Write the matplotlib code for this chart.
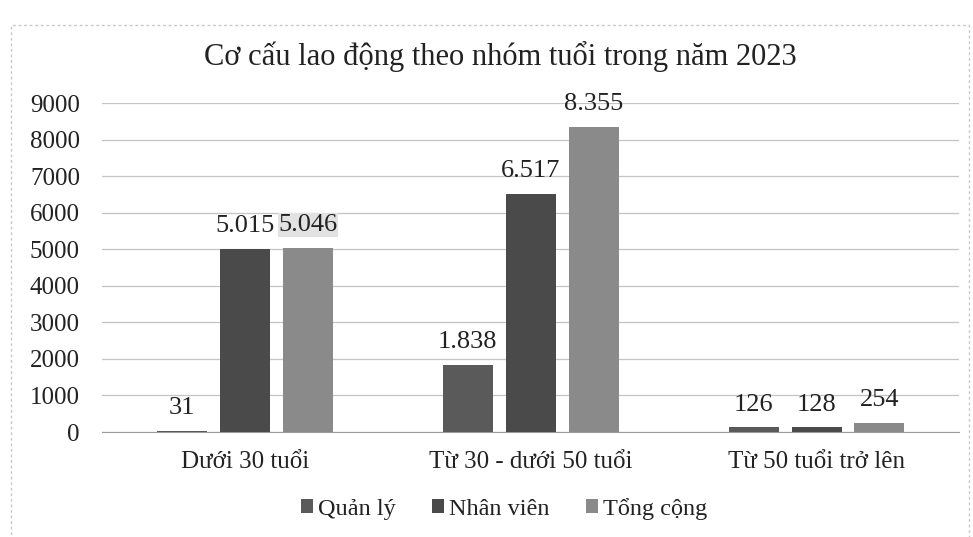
import numpy as np
import matplotlib.pyplot as plt
from matplotlib.patches import Rectangle

groups = ['Dưới 30 tuổi', 'Từ 30 - dưới 50 tuổi', 'Từ 50 tuổi trở lên']
series = ['Quản lý', 'Nhân viên', 'Tổng cộng']
quan_ly = [31, 1838, 126]
nhan_vien = [5015, 6517, 128]
tong_cong = [5046, 8355, 254]
yticks = [0, 1000, 2000, 3000, 4000, 5000, 6000, 7000, 8000, 9000]

colors = ['#5a5a5a', '#4a4a4a', '#8a8a8a']

plt.rcParams['font.family'] = ['Liberation Serif', 'DejaVu Serif']

fig = plt.figure(figsize=(9.73, 5.37), dpi=100)
ax = fig.add_axes([0.105, 0.1955, 0.881, 0.6125])

# khung ngoài
fig.patches.append(Rectangle((0.011, -0.01), 0.985, 0.963, transform=fig.transFigure,
                             fill=False, ec='#c8c8c8', lw=1, ls=(0, (2, 2))))

x = np.arange(len(groups))
w = 0.175
step = 0.22
for i, (vals, c) in enumerate(zip([quan_ly, nhan_vien, tong_cong], colors)):
    pos = x + (i - 1) * step
    ax.bar(pos, vals, width=w, color=c, label=series[i], zorder=3)
    for p, v in zip(pos, vals):
        lab = f'{v:,}'.replace(',', '.')
        t = ax.text(p, v + 320, lab, ha='center', va='bottom', fontsize=19, color='#222222')
        if v == 5046:
            # nhãn có nền xám nhạt như ảnh gốc
            t.set_bbox(dict(facecolor='#e2e2e2', edgecolor='none', pad=0.5))

ax.set_ylim(0, 9000)
ax.set_xlim(-0.5, 2.5)
ax.set_yticks(yticks)
ax.set_xticks(x)
ax.set_xticklabels(groups)
ax.tick_params(axis='both', length=0, labelsize=18, colors='#222222')
ax.tick_params(axis='x', pad=14)
ax.tick_params(axis='y', pad=16)
ax.grid(axis='y', color='#c4c4c4', lw=0.9, zorder=0)
for s in ['top', 'right', 'left']:
    ax.spines[s].set_visible(False)
ax.spines['bottom'].set_color('#9a9a9a')

fig.text(0.514, 0.895, 'Cơ cấu lao động theo nhóm tuổi trong năm 2023', ha='center',
         va='center', fontsize=22, color='#222222')
fig.legend(loc='center', bbox_to_anchor=(0.518, 0.053), ncol=3, frameon=False,
           fontsize=17.5, handlelength=0.5, handleheight=0.5, handletextpad=0.2,
           columnspacing=1.5, labelcolor='#222222')

fig.savefig('out.png', dpi=100)
